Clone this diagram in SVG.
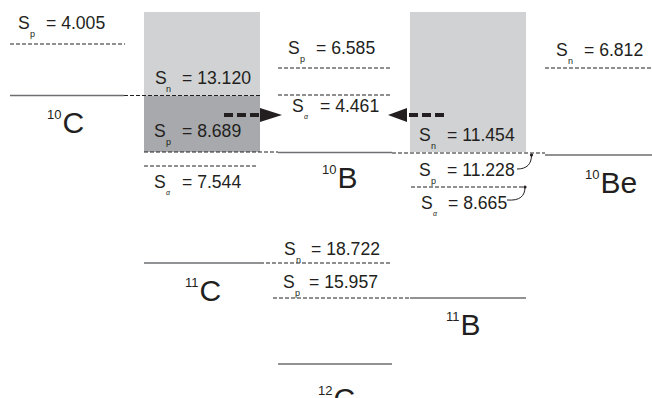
<svg xmlns="http://www.w3.org/2000/svg" width="652" height="398" viewBox="0 0 652 398">
<defs>
<style>
.t{font-family:"Liberation Sans",Arial,sans-serif;font-size:17.6px;fill:#231f20}
.sub{font-size:9px}
.sa{font-size:7px;font-style:italic}
.big{font-size:30px}
.sup{font-size:13px}
.lvl{stroke:#6d6e71;stroke-width:1.5;fill:none}
.dsh{stroke:#231f20;stroke-width:1;stroke-dasharray:4 2;fill:none}
.arr{stroke:#231f20;stroke-width:4;stroke-dasharray:9 4;fill:none}
.head{fill:#231f20}
.cur{stroke:#231f20;stroke-width:1;fill:none}
</style>
</defs>
<rect width="652" height="398" fill="#ffffff"/>
<g id="regions">
<rect x="144" y="12" width="116" height="84" fill="#d1d2d4"/>
<rect x="144" y="96" width="116" height="56" fill="#a7a9ac"/>
<rect x="410" y="12" width="116" height="140" fill="#d1d2d4"/>
</g>
<g id="connectors">
<path class="dsh" d="M10,44H125"/>
<path class="dsh" d="M124,95.5H260"/>
<path class="dsh" d="M144,152H278"/>
<path class="dsh" d="M144,166H257"/>
<path class="dsh" d="M278,68H392"/>
<path class="dsh" d="M278,95H392"/>
<path class="dsh" d="M392,153H545"/>
<path class="dsh" d="M411,187H525"/>
<path class="dsh" d="M545,68H652"/>
<path class="dsh" d="M260,263H392"/>
<path class="dsh" d="M273,298H410"/>
<path class="arr" d="M224,115H262"/>
<polygon class="head" points="260,108 282,115 260,122"/>
<path class="arr" d="M444,115H404"/>
<polygon class="head" points="407,108 388,115 407,122"/>
<circle class="head" cx="531.5" cy="155" r="1.6"/>
<path class="cur" d="M531.5,155C531.5,164 527,169 517,169"/>
<circle class="head" cx="525" cy="187" r="1.6"/>
<path class="cur" d="M525,187C525,196 520,201 507,200"/>
</g>
<g id="n10C">
<path class="lvl" d="M10,95.5H124"/>
<text class="t big" x="47" y="133"><tspan class="sup" y="119">10</tspan><tspan dx="1" y="133">C</tspan></text>
<text class="t" x="18" y="29">S<tspan class="sub" x="30" y="37">p</tspan><tspan x="46" y="29">= 4.005</tspan></text>
<text class="t" x="155" y="84">S<tspan class="sub" x="166" y="92">n</tspan><tspan x="182" y="84">= 13.120</tspan></text>
<text class="t" x="154" y="137">S<tspan class="sub" x="166" y="145">p</tspan><tspan x="182" y="137">= 8.689</tspan></text>
<text class="t" x="154" y="188">S<tspan class="sub sa" x="166" y="195">α</tspan><tspan x="182" y="188">= 7.544</tspan></text>
</g>
<g id="n10B">
<path class="lvl" d="M278,152.5H392"/>
<text class="t big" x="322" y="188"><tspan class="sup" y="174">10</tspan><tspan dx="1" y="188">B</tspan></text>
<text class="t" x="288" y="54">S<tspan class="sub" x="300" y="62">p</tspan><tspan x="316" y="54">= 6.585</tspan></text>
<text class="t" x="292" y="112">S<tspan class="sub sa" x="304" y="119">α</tspan><tspan x="320" y="112">= 4.461</tspan></text>
</g>
<g id="n10Be">
<path class="lvl" d="M545,155H652"/>
<text class="t big" x="585" y="193"><tspan class="sup" y="179">10</tspan><tspan dx="1" y="193">Be</tspan></text>
<text class="t" x="419" y="141">S<tspan class="sub" x="431" y="149">n</tspan><tspan x="447" y="141">= 11.454</tspan></text>
<text class="t" x="419" y="176">S<tspan class="sub" x="431" y="184">p</tspan><tspan x="447" y="176">= 11.228</tspan></text>
<text class="t" x="421" y="209">S<tspan class="sub sa" x="433" y="216">α</tspan><tspan x="448" y="209">= 8.665</tspan></text>
<text class="t" x="556" y="56">S<tspan class="sub" x="568" y="64">n</tspan><tspan x="584" y="56">= 6.812</tspan></text>
</g>
<g id="n11C">
<path class="lvl" d="M144,263H260"/>
<text class="t big" x="185" y="301"><tspan class="sup" y="287">11</tspan><tspan dx="1" y="301">C</tspan></text>
<text class="t" x="284" y="255">S<tspan class="sub" x="296" y="263">n</tspan><tspan x="311" y="255">= 18.722</tspan></text>
<text class="t" x="283" y="288">S<tspan class="sub" x="295" y="296">p</tspan><tspan x="309" y="288">= 15.957</tspan></text>
</g>
<g id="n11B">
<path class="lvl" d="M410,298H526"/>
<text class="t big" x="446" y="335"><tspan class="sup" y="321">11</tspan><tspan dx="1" y="335">B</tspan></text>
</g>
<g id="n12C">
<path class="lvl" d="M278,364H392"/>
<text class="t big" x="318" y="409"><tspan class="sup" y="395">12</tspan><tspan dx="1" y="409">C</tspan></text>
</g>
</svg>
